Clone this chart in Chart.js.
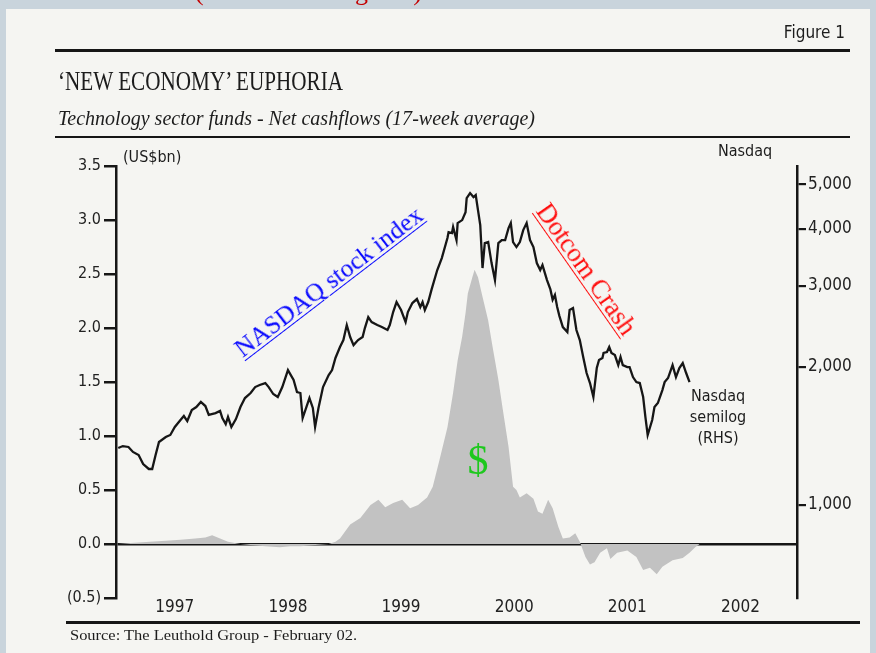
<!DOCTYPE html>
<html><head><meta charset="utf-8">
<script src="https://cdn.jsdelivr.net/npm/chart.js@4.4.1/dist/chart.umd.min.js"></script>
<style>
html,body{margin:0;padding:0;}
body{width:876px;height:653px;overflow:hidden;background:#c9d4dc;position:relative;}
#page{position:absolute;left:6px;top:9px;width:864px;height:644px;background:#f5f5f2;}
#c{position:absolute;left:0;top:0;}
.t{position:absolute;white-space:nowrap;line-height:1;}
.rule{position:absolute;background:#161616;}
</style></head><body>
<div id="page"></div>
<div class="rule" style="left:55px;top:49px;width:795px;height:3px"></div>
<div class="rule" style="left:55px;top:136px;width:795px;height:2px"></div>
<div class="rule" style="left:66px;top:621px;width:794px;height:3px"></div>
<canvas id="c" width="876" height="653"></canvas>
<script>
// ---------- DATA ----------
const yearLabels = [1997, 1998, 1999, 2000, 2001, 2002];
const leftTicks = [-0.5, 0, 0.5, 1.0, 1.5, 2.0, 2.5, 3.0, 3.5];
const rightTicks = [1000, 2000, 3000, 4000, 5000];

// Nasdaq composite (semilog, RHS)
const nasdaqDates = [1997.00,1997.04,1997.09,1997.13,1997.18,1997.22,1997.27,1997.30,1997.33,1997.36,1997.42,1997.46,1997.50,1997.55,1997.58,1997.61,1997.65,1997.69,1997.73,1997.77,1997.80,1997.86,1997.90,1997.92,1997.95,1997.97,1998.00,1998.04,1998.08,1998.12,1998.17,1998.21,1998.25,1998.30,1998.33,1998.37,1998.41,1998.45,1998.50,1998.55,1998.58,1998.61,1998.63,1998.69,1998.72,1998.74,1998.77,1998.81,1998.86,1998.89,1998.92,1998.96,1998.99,1999.02,1999.05,1999.08,1999.12,1999.16,1999.18,1999.21,1999.24,1999.29,1999.33,1999.38,1999.40,1999.43,1999.46,1999.50,1999.54,1999.56,1999.60,1999.64,1999.67,1999.69,1999.71,1999.74,1999.77,1999.82,1999.86,1999.91,1999.92,1999.95,1999.96,1999.99,2000.00,2000.04,2000.07,2000.08,2000.11,2000.14,2000.16,2000.18,2000.20,2000.22,2000.24,2000.27,2000.30,2000.33,2000.36,2000.39,2000.42,2000.45,2000.47,2000.49,2000.52,2000.55,2000.58,2000.61,2000.64,2000.67,2000.70,2000.73,2000.75,2000.79,2000.82,2000.84,2000.86,2000.88,2000.90,2000.93,2000.97,2000.99,2001.02,2001.05,2001.08,2001.11,2001.14,2001.17,2001.20,2001.23,2001.25,2001.28,2001.29,2001.32,2001.34,2001.36,2001.39,2001.42,2001.44,2001.46,2001.50,2001.52,2001.55,2001.58,2001.61,2001.64,2001.66,2001.68,2001.72,2001.74,2001.77,2001.81,2001.83,2001.86,2001.90,2001.93,2001.96,2001.99,2002.02,2002.05];
const nasdaqValues = [1331,1344,1338,1305,1285,1228,1198,1198,1285,1372,1406,1421,1479,1532,1563,1524,1611,1635,1677,1643,1571,1586,1603,1547,1501,1555,1479,1539,1635,1710,1754,1807,1826,1844,1807,1745,1719,1807,1968,1872,1763,1754,1547,1710,1627,1479,1627,1807,1920,1968,2091,2209,2288,2467,2323,2231,2288,2323,2430,2568,2504,2467,2442,2406,2467,2633,2769,2660,2504,2633,2755,2811,2700,2769,2660,2769,2950,3251,3452,3817,3933,3914,4033,3779,4115,4177,4348,4665,4783,4688,4736,4393,4074,3284,3722,3741,3367,3092,3722,3779,3779,4013,4115,3741,3649,3741,3973,4115,3779,3649,3367,3251,3333,3092,2950,2800,2868,2700,2580,2442,2382,2660,2687,2406,2288,2101,1939,1844,1719,1988,2070,2091,2144,2154,2209,2144,2122,2018,2101,2018,1998,1998,1900,1853,1844,1719,1555,1421,1532,1635,1668,1780,1853,1891,2018,1900,1988,2039,1939,1853];

// Technology sector funds net cashflows, US$bn (17-week average, LHS)
const flowDates = [1997.00,1997.11,1997.28,1997.42,1997.55,1997.68,1997.77,1997.83,1997.90,1997.97,1998.08,1998.17,1998.30,1998.43,1998.52,1998.61,1998.74,1998.86,1998.92,1998.96,1999.05,1999.14,1999.23,1999.30,1999.36,1999.43,1999.51,1999.58,1999.65,1999.73,1999.78,1999.84,1999.91,1999.96,2000.00,2000.04,2000.07,2000.09,2000.13,2000.15,2000.18,2000.22,2000.27,2000.31,2000.36,2000.40,2000.45,2000.49,2000.52,2000.55,2000.61,2000.67,2000.71,2000.75,2000.80,2000.84,2000.89,2000.93,2000.99,2001.04,2001.08,2001.13,2001.17,2001.21,2001.26,2001.32,2001.35,2001.41,2001.50,2001.58,2001.64,2001.70,2001.76,2001.81,2001.90,2001.99,2002.05,2002.10,2002.14];
const flowValues = [0.00,0.01,0.02,0.03,0.04,0.05,0.06,0.08,0.05,0.02,0.00,-0.01,-0.02,-0.03,-0.02,-0.02,-0.01,0.00,0.02,0.05,0.18,0.24,0.36,0.41,0.34,0.38,0.41,0.33,0.36,0.43,0.53,0.78,1.08,1.40,1.70,1.92,2.14,2.32,2.47,2.54,2.47,2.29,2.07,1.82,1.52,1.24,0.90,0.53,0.50,0.43,0.47,0.42,0.30,0.28,0.41,0.33,0.16,0.05,0.06,0.10,0.02,-0.12,-0.19,-0.17,-0.08,-0.04,-0.14,-0.08,-0.06,-0.12,-0.24,-0.22,-0.28,-0.21,-0.15,-0.13,-0.08,-0.03,0.00];

// ---------- TEXT ----------
const SANS = "'Liberation Sans Narrow','DejaVu Sans Condensed','Liberation Sans',sans-serif";
const SERIF = "'Liberation Serif','DejaVu Serif',serif";
function addText(txt, o){
  const d=document.createElement('div'); d.className='t'; d.textContent=txt;
  d.style.fontFamily=o.family; d.style.fontSize=o.size+'px';
  if(o.italic) d.style.fontStyle='italic';
  d.style.color=o.color||'#1c1c1c';
  if(o.underline){d.style.textDecoration='underline';d.style.textDecorationThickness='1px';d.style.textUnderlineOffset='3px';}
  document.body.appendChild(d);
  const w=d.getBoundingClientRect().width;
  const sx=o.width? o.width/w : 1;
  let left=o.x;
  if(o.align==='center') left=o.x-w*sx/2;
  if(o.align==='right') left=o.x-w*sx;
  const base=0.84*o.size;
  d.style.left=left+'px';
  d.style.top=(o.y-base)+'px';
  d.style.transformOrigin='0 '+base+'px';
  let tr=''; if(o.rot) tr+='rotate('+o.rot+'deg) '; if(sx!==1) tr+='scaleX('+sx+')';
  d.style.transform=tr;
  d.style.zIndex=5;
}
addText('(Fear of Missing Out)',{family:SERIF,size:26,x:308,y:1,align:'center',color:'#c40000',width:227});
addText('Figure 1',{family:SANS,size:17,x:845,y:38,align:'right'});
addText('\u2018NEW ECONOMY\u2019 EUPHORIA',{family:SERIF,size:27,x:58,y:91,width:285});
addText('Technology sector funds - Net cashflows (17-week average)',{family:SERIF,size:21,italic:true,x:58,y:126,width:477});
addText('(US$bn)',{family:SANS,size:16,x:123,y:162});
addText('Nasdaq',{family:SANS,size:16,x:718,y:156});
addText('Nasdaq',{family:SANS,size:16,x:718,y:401,align:'center'});
addText('semilog',{family:SANS,size:16,x:718,y:422,align:'center'});
addText('(RHS)',{family:SANS,size:16,x:718,y:443,align:'center'});
addText('Source: The Leuthold Group - February 02.',{family:SERIF,size:15,x:70,y:641,width:287});
addText('NASDAQ stock index',{family:SERIF,size:25.5,x:243,y:358,rot:-37.5,color:'#0a0aff',underline:true});
addText('Dotcom Crash',{family:SERIF,size:26.5,x:535,y:211,rot:55,color:'#ff0d0d',underline:true});
addText('$',{family:SERIF,size:42,x:478,y:474,align:'center',color:'#1ec81e'});

// ---------- CHART ----------
const INK='#161616';
new Chart(document.getElementById('c'),{
  type:'line',
  data:{datasets:[
    {label:'Nasdaq semilog (RHS)', data:nasdaqDates.map((d,i)=>({x:d,y:nasdaqValues[i]})), yAxisID:'y2',
     borderColor:INK, borderWidth:2.3, pointRadius:0, tension:0, fill:false, order:0},
    {label:'Technology sector funds - Net cashflows', data:flowDates.map((d,i)=>({x:d,y:flowValues[i]})), yAxisID:'y',
     borderColor:'rgba(0,0,0,0)', borderWidth:0, backgroundColor:'#c2c2c2', fill:'origin', pointRadius:0, tension:0, order:1}
  ]},
  options:{
    responsive:false, animation:false, devicePixelRatio:1,
    layout:{padding:{left:50,right:0,top:166,bottom:25}},
    plugins:{legend:{display:false},tooltip:{enabled:false}},
    scales:{
      x:{type:'linear',min:1996.98,max:2003,
        grid:{display:false}, border:{display:false},
        afterBuildTicks:s=>{s.ticks=yearLabels.map(v=>({value:v+0.5}));},
        afterFit:s=>{s.height=30;},
        ticks:{callback:v=>String(Math.floor(v)), font:{family:SANS,size:17}, color:'#222', padding:-9, maxRotation:0, autoSkip:false}},
      y:{position:'left',min:-0.5,max:3.5,z:1,
        afterBuildTicks:s=>{s.ticks=leftTicks.map(v=>({value:v}));},
        afterFit:s=>{s.width=66;},
        grid:{color:c=>(c.tick&&c.tick.value===0)?INK:'rgba(0,0,0,0)', lineWidth:2.5, tickLength:12, tickColor:INK, tickWidth:2.5},
        border:{display:true,color:INK,width:2.5},
        ticks:{callback:v=>v<0?'(0.5)':v.toFixed(1), font:{family:SANS,size:16}, color:'#222', padding:3}},
      y2:{type:'logarithmic',position:'right',min:627,max:5480,
        afterBuildTicks:s=>{s.ticks=rightTicks.map(v=>({value:v}));},
        afterFit:s=>{s.width=79;},
        grid:{drawOnChartArea:false, tickLength:9, color:INK, lineWidth:2.2},
        border:{display:true,color:INK,width:2.5},
        ticks:{callback:v=>Number(v).toLocaleString('en-US'), font:{family:SANS,size:17}, color:'#222', padding:2}}
    }
  }
});
</script>
</body></html>
